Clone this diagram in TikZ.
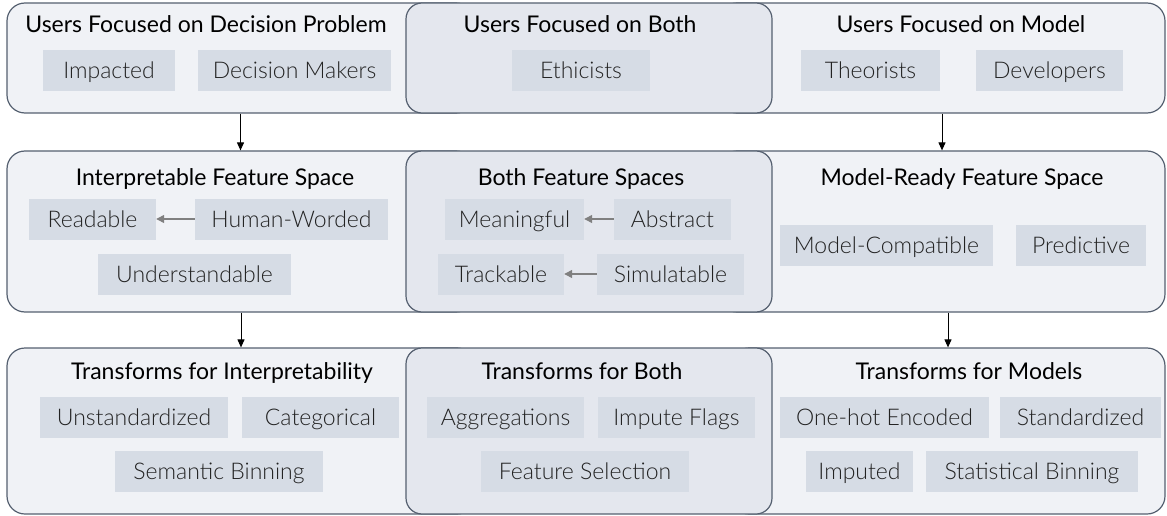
\documentclass[tikz,border=0pt]{standalone}
\usepackage{fontspec}
\setmainfont{Lato}
\newfontfamily\chipfont{Lato Light}
\usetikzlibrary{arrows.meta}
\definecolor{outerfill}{HTML}{F0F2F6}
\definecolor{midfill}{HTML}{E4E7EE}
\definecolor{chipfill}{HTML}{D6DCE5}
\definecolor{edgec}{HTML}{556070}
\definecolor{chiptext}{HTML}{222222}
\definecolor{relc}{HTML}{808080}
\begin{document}
\begin{tikzpicture}[x=1pt,y=-1pt,
  panel/.style={draw=edgec, line width=1.2pt, fill=outerfill, rounded corners=18pt, inner sep=0pt},
  midpanel/.style={draw=edgec, line width=1.2pt, fill=midfill, rounded corners=16pt, inner sep=0pt},
  ttl/.style={font=\fontsize{23}{27}\selectfont, text=black, inner sep=0pt, anchor=base},
  chip/.style={fill=chipfill, text=chiptext, font=\chipfont\fontsize{23}{27}\selectfont, minimum height=41pt, inner sep=0pt, text height=16.5pt, text depth=0pt},
  flow/.style={draw=black, line width=1pt, -{Triangle[length=8pt,width=7pt]}},
  rel/.style={draw=relc, line width=1.3pt, -{Triangle[length=8pt,width=8pt]}}
]
\useasboundingbox (0,0) rectangle (1167,516);
% row 1 panels
\node[panel, minimum width=467pt, minimum height=110pt] (L1) at (240.5,58) {};
\node[panel, minimum width=446pt, minimum height=110pt] (R1) at (942,58) {};
\node[midpanel, minimum width=366pt, minimum height=110pt] (M1) at (589,58) {};
% row 2 panels
\node[panel, minimum width=467pt, minimum height=161pt] (L2) at (240.5,231.5) {};
\node[panel, minimum width=446pt, minimum height=161pt] (R2) at (942,231.5) {};
\node[midpanel, minimum width=366pt, minimum height=161pt] (M2) at (589,231.5) {};
% row 3 panels
\node[panel, minimum width=468pt, minimum height=166pt] (L3) at (241,431) {};
\node[panel, minimum width=434pt, minimum height=166pt] (R3) at (948,431) {};
\node[midpanel, minimum width=366pt, minimum height=166pt] (M3) at (589,431) {};
% titles
\node[ttl] (t1l) at (206,33) {Users Focused on Decision Problem};
\node[ttl] (t1m) at (580,33) {Users Focused on Both};
\node[ttl] (t1r) at (961,33) {Users Focused on Model};
\node[ttl] (t2l) at (215,185) {Interpretable Feature Space};
\node[ttl] (t2m) at (581,185) {Both Feature Spaces};
\node[ttl] (t2r) at (962,185) {Model-Ready Feature Space};
\node[ttl] (t3l) at (222,379) {Transforms for Interpretability};
\node[ttl] (t3m) at (582,379) {Transforms for Both};
\node[ttl] (t3r) at (969,379) {Transforms for Models};
% row 1 chips
\node[chip, minimum width=132pt] (imp) at (109,70.5) {Impacted};
\node[chip, minimum width=193pt] (dm) at (294.5,70.5) {Decision Makers};
\node[chip, minimum width=138pt] (eth) at (581,70.5) {Ethicists};
\node[chip, minimum width=139pt] (theo) at (870.5,70.5) {Theorists};
\node[chip, minimum width=147pt] (dev) at (1049.5,70.5) {Developers};
% row 2 chips
\node[chip, minimum width=127pt] (rd) at (92.5,219) {Readable};
\node[chip, minimum width=193pt] (hw) at (291.5,219) {Human-Worded};
\node[chip, minimum width=193pt] (und) at (194.5,274) {Understandable};
\node[chip, minimum width=139pt] (mean) at (514.5,219) {Meaningful};
\node[chip, minimum width=117pt] (abs) at (672.5,219) {Abstract};
\node[chip, minimum width=126pt] (trk) at (501,274) {Trackable};
\node[chip, minimum width=147pt] (sim) at (670.5,274) {Simulatable};
\node[chip, minimum width=213pt] (mc) at (886.5,245.5) {Model-Compatible};
\node[chip, minimum width=130pt] (pred) at (1081,245.5) {Predictive};
% row 3 chips
\node[chip, minimum width=188pt] (unst) at (134,417.5) {Unstandardized};
\node[chip, minimum width=157pt] (cat) at (320.5,417.5) {Categorical};
\node[chip, minimum width=208pt] (sem) at (219,471.5) {Semantic Binning};
\node[chip, minimum width=157pt] (agg) at (505.5,417.5) {Aggregations};
\node[chip, minimum width=157pt] (impf) at (676.5,417.5) {Impute Flags};
\node[chip, minimum width=208pt] (fs) at (585,471.5) {Feature Selection};
\node[chip, minimum width=209pt] (ohe) at (884.5,417.5) {One-hot Encoded};
\node[chip, minimum width=161pt] (std) at (1080.5,417.5) {Standardized};
\node[chip, minimum width=107pt] (imd) at (859.5,471.5) {Imputed};
\node[chip, minimum width=212pt] (stb) at (1032,471.5) {Statistical Binning};
% relations inside
\draw[rel] (hw.west) -- (rd.east);
\draw[rel] (abs.west) -- (mean.east);
\draw[rel] (sim.west) -- (trk.east);
% flow arrows
\draw[flow] (L1.south) -- (L2.north);
\draw[flow] (R1.south) -- (R2.north);
\draw[flow] (L3.north |- L2.south) -- (L3.north);
\draw[flow] (R3.north |- R2.south) -- (R3.north);
\end{tikzpicture}
\end{document}
